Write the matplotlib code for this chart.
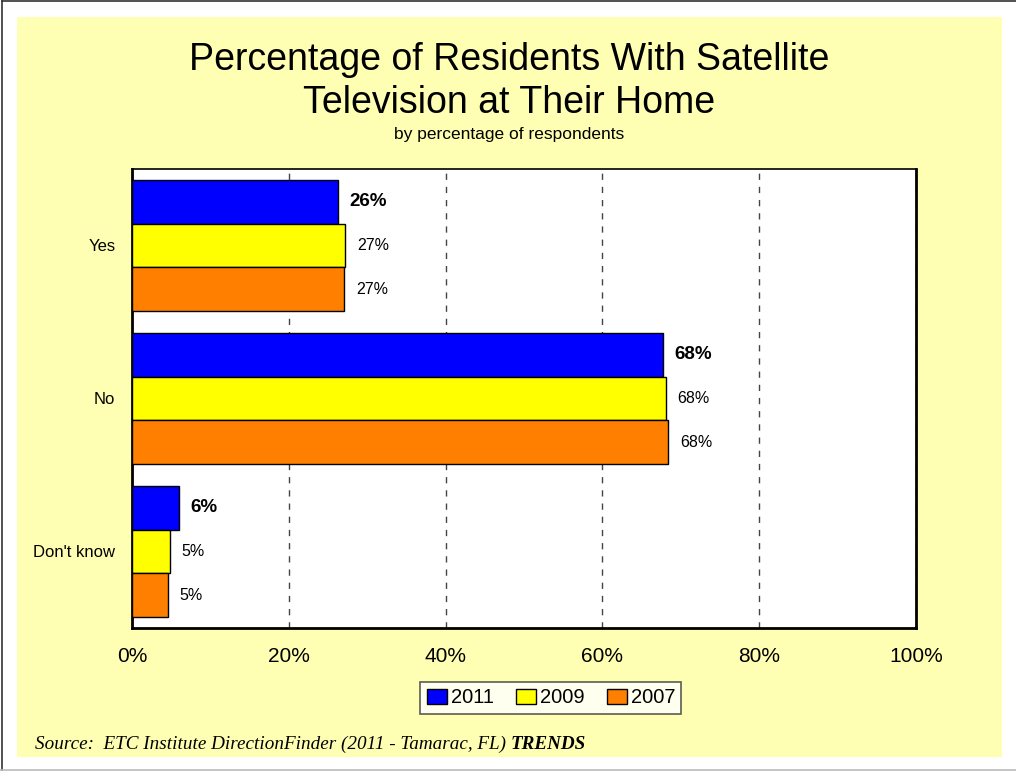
import numpy as np
import matplotlib.pyplot as plt
from matplotlib.patches import Rectangle
from matplotlib.lines import Line2D

plt.rcParams['font.family'] = ['Liberation Sans', 'DejaVu Sans']

categories = ['Yes', 'No', "Don't know"]
years = ['2011', '2009', '2007']
v2011 = [26.3, 67.7, 6.0]
v2009 = [27.2, 68.1, 4.8]
v2007 = [27.1, 68.4, 4.6]
colors = ['#0000FF', '#FFFF00', '#FF8000']

fig = plt.figure(figsize=(10.16, 7.71), dpi=100)
fig.patch.set_facecolor('white')

# pale yellow panel behind everything
fig.patches.append(Rectangle((0.0167, 0.0182), 0.9695, 0.9598, transform=fig.transFigure,
                             facecolor='#FFFFB3', edgecolor='none', zorder=-10))
# page border (dark left/top, light bottom)
fig.lines.append(Line2D([0.002, 0.002], [0.0, 0.999], transform=fig.transFigure, color='#333333', lw=1.2))
fig.lines.append(Line2D([0.002, 1.0], [0.999, 0.999], transform=fig.transFigure, color='#333333', lw=1.2))
fig.lines.append(Line2D([0.0, 1.0], [0.0015, 0.0015], transform=fig.transFigure, color='#bbbbbb', lw=1.2))

ax = fig.add_axes([0.1299, 0.1855, 0.7717, 0.5953])
ax.set_facecolor('white')

y = np.arange(len(categories))
h = 0.857 / 3
series = [v2011, v2009, v2007]
for i, (vals, yr, c) in enumerate(zip(series, years, colors)):
    bars = ax.barh(y + (i - 1) * h, vals, height=h, color=c, edgecolor='black', linewidth=1,
                   label=yr, zorder=3)
    labs = [f'{round(v)}%' for v in vals]
    if i == 0:
        ax.bar_label(bars, labels=labs, padding=8, fontsize=13.5, fontweight='bold')
    else:
        ax.bar_label(bars, labels=labs, padding=8.5, fontsize=11.5)

ax.set_xlim(0, 100)
ax.set_ylim(-0.5, 2.5)
ax.invert_yaxis()
ax.set_yticks(y)
ax.set_yticklabels(categories, fontsize=12)
ax.set_xticks(np.arange(0, 101, 20))
ax.set_xticklabels([f'{t}%' for t in range(0, 101, 20)], fontsize=15)
ax.tick_params(axis='y', length=0, pad=12)
ax.tick_params(axis='x', length=0, pad=14)
ax.xaxis.grid(True, color='#444444', linestyle=(0, (4.5, 5)), linewidth=1, zorder=1)
ax.set_axisbelow(True)
for s in ['left', 'right', 'bottom']:
    ax.spines[s].set_linewidth(2)
ax.spines['top'].set_linewidth(1.2)

fig.text(0.5014, 0.894, 'Percentage of Residents With Satellite\nTelevision at Their Home',
         ha='center', va='center', fontsize=27, linespacing=1.25)
fig.text(0.5014, 0.825, 'by percentage of respondents', ha='center', va='center', fontsize=12.5)

leg = ax.legend(loc='center', bbox_to_anchor=(0.5423, 0.0947), bbox_transform=fig.transFigure,
                ncol=3, fontsize=14.5, frameon=True, fancybox=False, edgecolor='#333333',
                handlelength=1.0, handleheight=0.8, handletextpad=0.2, columnspacing=1.1,
                borderpad=0.3)
leg.get_frame().set_linewidth(1.2)

t1 = fig.text(0.0344, 0.029, 'Source:  ETC Institute DirectionFinder (2011 - Tamarac, FL) ',
              family='Liberation Serif', style='italic', fontsize=13.8, va='baseline')
fig.canvas.draw()
bb = t1.get_window_extent()
fig.text(bb.x1 / fig.bbox.width, 0.029, 'TRENDS', family='Liberation Serif', style='italic',
         fontweight='bold', fontsize=13.8, va='baseline')

fig.savefig('out.png', dpi=100)
